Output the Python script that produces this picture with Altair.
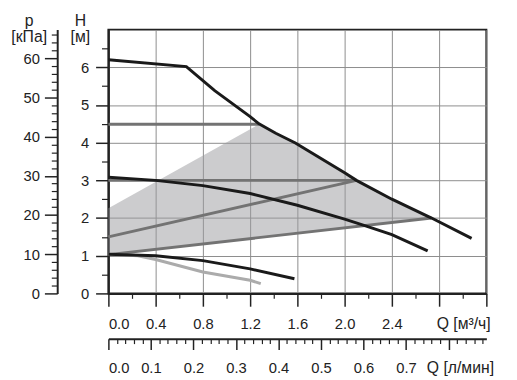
import altair as alt
import pandas as pd

# ---- data (Q in m³/h, H in m) ----
c1_q = [0.0, 0.66, 0.9, 1.2, 1.275, 1.417, 1.583, 2.0, 2.1, 2.4, 2.736, 3.075]
c1_h = [6.2, 6.02, 5.38, 4.69, 4.5, 4.25, 3.99, 3.2, 3.0, 2.5, 2.0, 1.46]
c2_q = [0.0, 0.4, 0.8, 1.2, 1.6, 2.0, 2.19, 2.4, 2.703]
c2_h = [3.08, 3.0, 2.86, 2.65, 2.34, 1.97, 1.78, 1.56, 1.13]
c3_q = [0.0, 0.4, 0.8, 1.2, 1.575]
c3_h = [1.04, 1.0, 0.87, 0.65, 0.39]
c4_q = [0.0, 0.25, 0.4, 0.8, 1.2, 1.29]
c4_h = [1.04, 1.0, 0.9, 0.57, 0.35, 0.26]

g1_q = [0.0, 1.275]
g1_h = [4.49, 4.49]
g2_q = [0.0, 2.1]
g2_h = [3.0, 3.0]
g3_q = [0.0, 2.1]
g3_h = [1.5, 3.0]
g4_q = [0.0, 2.736]
g4_h = [1.03, 2.0]

zone_q = [0.0, 1.275, 1.417, 1.583, 2.0, 2.1, 2.4, 2.736]
zone_hi = [2.26, 4.49, 4.25, 3.99, 3.2, 3.0, 2.5, 2.0]
zone_lo = [1.03, 1.48, 1.53, 1.59, 1.74, 1.77, 1.88, 2.0]

# ---- tick values ----
q_major = [0.0, 0.4, 0.8, 1.2, 1.6, 2.0, 2.4, 2.8, 3.2]
q_minor = [0.2, 0.6, 1.0, 1.4, 1.8, 2.2, 2.6, 3.0]
h_major = [0, 1, 2, 3, 4, 5, 6]
h_minor = [0.5, 1.5, 2.5, 3.5, 4.5, 5.5, 6.5]
p_major = [0, 10, 20, 30, 40, 50, 60]
p_minor = [2, 4, 6, 8, 12, 14, 16, 18, 22, 24, 26, 28, 32, 34, 36, 38,
           42, 44, 46, 48, 52, 54, 56, 58, 62, 64, 66]
ls_major = [0.0, 0.1, 0.2, 0.3, 0.4, 0.5, 0.6, 0.7, 0.8]
ls_minor = [0.02, 0.04, 0.06, 0.08, 0.12, 0.14, 0.16, 0.18, 0.22, 0.24, 0.26, 0.28,
            0.32, 0.34, 0.36, 0.38, 0.42, 0.44, 0.46, 0.48, 0.52, 0.54, 0.56, 0.58,
            0.62, 0.64, 0.66, 0.68, 0.72, 0.74, 0.76, 0.78, 0.82, 0.84, 0.86, 0.88]

FONT = "Liberation Sans"
INK = "#222222"


def frame(qs, hs, name):
    return pd.DataFrame({"Q": qs, "H": hs, "series": name})


black_df = pd.concat([frame(c1_q, c1_h, "c1"), frame(c2_q, c2_h, "c2"),
                      frame(c3_q, c3_h, "c3")])
light_df = frame(c4_q, c4_h, "c4")
gray_df = pd.concat([frame(g1_q, g1_h, "g1"), frame(g2_q, g2_h, "g2"),
                     frame(g3_q, g3_h, "g3"), frame(g4_q, g4_h, "g4")])
zone_df = pd.DataFrame({"Q": zone_q, "hi": zone_hi, "lo": zone_lo})


def xq(axis=None, field="Q:Q"):
    return alt.X(field, scale=alt.Scale(domain=[0, 3.2], nice=False, zero=False),
                 axis=axis)


def yh(axis=None, field="H:Q"):
    return alt.Y(field, scale=alt.Scale(domain=[0, 7], nice=False, zero=False),
                 axis=axis)


x_axis_major = alt.Axis(
    orient="bottom", values=q_major, tickSize=13, tickWidth=1.5, tickColor=INK,
    labelExpr="datum.value < 2.5 ? format(datum.value, '.1f') : ''",
    labelOverlap=False, labelPadding=11, grid=True, gridColor="#8c8c8c", gridWidth=1,
    domainColor=INK, domainWidth=2,
    title="Q [м³/ч]", titleX=333, titleY=36, titleAlign="left",
    titleBaseline="alphabetic", titleAngle=0)
x_axis_minor = alt.Axis(orient="bottom", values=q_minor, tickSize=5, tickWidth=1.2,
                        tickColor=INK, labels=False, domain=False, grid=False, title=None)
y_axis_major = alt.Axis(
    orient="left", values=h_major, tickSize=13, tickWidth=1.5, tickColor=INK,
    format="d", labelPadding=7, labelOverlap=False, grid=True, gridColor="#8c8c8c",
    gridWidth=1, domainColor=INK, domainWidth=2,
    title=["H", "[м]"], titleX=-29, titleY=-4, titleAlign="center",
    titleBaseline="alphabetic", titleAngle=0, titleLineHeight=16)
y_axis_minor = alt.Axis(orient="left", values=h_minor, tickSize=7, tickWidth=1.2,
                        tickColor=INK, labels=False, domain=False, grid=False, title=None)

zone = alt.Chart(zone_df).mark_area(color="#9a9a9e", opacity=0.5).encode(
    x=xq(x_axis_major), y=yh(y_axis_major, "hi:Q"), y2="lo:Q")

gray = alt.Chart(gray_df).mark_line(strokeWidth=3, color="#737373").encode(
    x=xq(), y=yh(), detail="series:N")
light = alt.Chart(light_df).mark_line(strokeWidth=3, color="#ababab").encode(
    x=xq(), y=yh())
black = alt.Chart(black_df).mark_line(strokeWidth=3, color="#1a1a1a").encode(
    x=xq(), y=yh(), detail="series:N")

qminor = alt.Chart(pd.DataFrame({"Q": q_minor})).mark_point(opacity=0).encode(
    x=xq(x_axis_minor))
hminor = alt.Chart(pd.DataFrame({"H": h_minor})).mark_point(opacity=0).encode(
    y=yh(y_axis_minor))

p_scale = alt.Scale(domain=[0, 67.3], nice=False, zero=False)
p_major_layer = alt.Chart(pd.DataFrame({"p": p_major})).mark_point(opacity=0).encode(
    y=alt.Y("p:Q", scale=p_scale, axis=alt.Axis(
        orient="left", offset=52, values=p_major, format="d", tickSize=13,
        tickWidth=1.5, tickColor=INK, labelPadding=5, labelOverlap=False,
        domainColor=INK, domainWidth=2, grid=False,
        title=["p", "[кПа]"], titleX=-29, titleY=-4, titleAlign="center",
        titleBaseline="alphabetic", titleAngle=0, titleLineHeight=16)))
p_minor_layer = alt.Chart(pd.DataFrame({"p": p_minor})).mark_point(opacity=0).encode(
    y=alt.Y("p:Q", scale=p_scale, axis=alt.Axis(
        orient="left", offset=52, values=p_minor, tickSize=6, tickWidth=1.2,
        tickColor=INK, labels=False, domain=False, grid=False, title=None)))

ls_scale = alt.Scale(domain=[0, 3.2 / 3.6], nice=False, zero=False)
ls_major_layer = alt.Chart(pd.DataFrame({"ls": ls_major})).mark_point(opacity=0).encode(
    x=alt.X("ls:Q", scale=ls_scale, axis=alt.Axis(
        orient="bottom", offset=46, values=ls_major, tickSize=11, tickWidth=1.5,
        tickColor=INK, labelExpr="datum.value < 0.75 ? format(datum.value, '.1f') : ''",
        labelOverlap=False, labelPadding=11, domainColor=INK, domainWidth=2, grid=False,
        title="Q [л/мин]", titleX=323, titleY=34, titleAlign="left",
        titleBaseline="alphabetic", titleAngle=0)))
ls_minor_layer = alt.Chart(pd.DataFrame({"ls": ls_minor})).mark_point(opacity=0).encode(
    x=alt.X("ls:Q", scale=ls_scale, axis=alt.Axis(
        orient="bottom", offset=46, values=ls_minor, tickSize=5, tickWidth=1.2,
        tickColor=INK, labels=False, domain=False, grid=False, title=None)))

chart = alt.layer(
    zone, gray, light, black, qminor, hminor,
    p_major_layer, p_minor_layer, ls_major_layer, ls_minor_layer
).resolve_scale(x="independent", y="independent").properties(
    width=384, height=268,
    background="white",
    autosize=alt.AutoSizeParams(type="none"),
    padding={"left": 102, "top": 19, "right": 23, "bottom": 85},
).configure_view(stroke=INK, strokeWidth=2).configure_axis(
    labelFont=FONT, labelFontSize=15, labelColor=INK,
    titleFont=FONT, titleFontSize=16, titleFontWeight="normal", titleColor=INK,
)

chart.save("out.html", embed_options={"renderer": "svg", "actions": False})
